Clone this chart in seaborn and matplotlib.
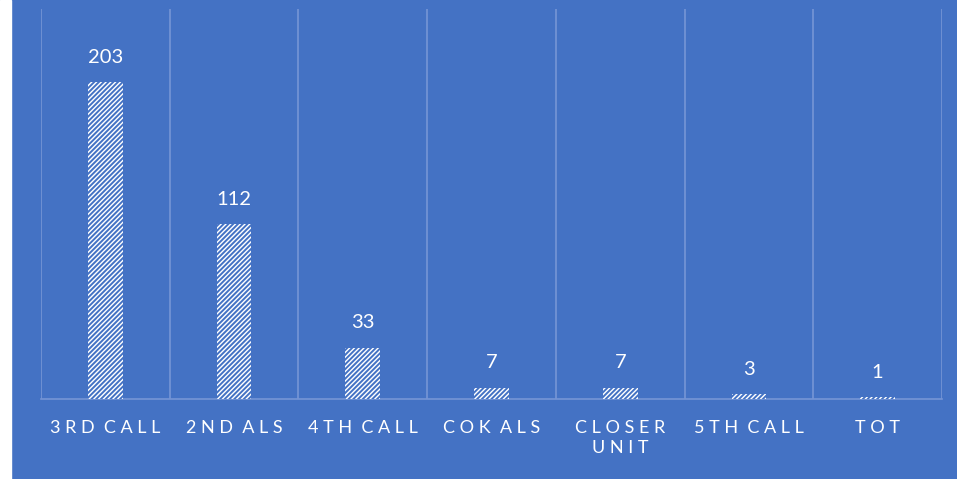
import matplotlib
matplotlib.use("Agg")
import matplotlib.pyplot as plt
import seaborn as sns
import numpy as np
from matplotlib.patches import Rectangle

# data
categories = ['3RD CALL', '2ND ALS', '4TH CALL', 'COK ALS', 'CLOSER\nUNIT', '5TH CALL', 'TOT']
counts = [203, 112, 33, 7, 7, 3, 1]

blue = '#4472C4'
grid_col = '#7695D5'

sns.set_style("white")
plt.rcParams['font.family'] = ['Lato', 'DejaVu Sans']
plt.rcParams['hatch.color'] = blue
plt.rcParams['hatch.linewidth'] = 1.4


def spaced(s):
    # mimic the letter spacing of the category labels
    return '\n'.join('  '.join(' '.join(w) for w in line.split(' ')) for line in s.split('\n'))


fig = plt.figure(figsize=(9.57, 4.79), dpi=100, facecolor=blue)
fig.patches.append(Rectangle((0, 0), 11 / 957, 1, transform=fig.transFigure,
                             color='white', zorder=0))
ax = fig.add_axes([41 / 957, 80 / 479, 901 / 957, 390 / 479])
ax.set_facecolor(blue)

sns.barplot(x=categories, y=counts, color='white', width=0.27, ax=ax,
            saturation=1, zorder=3)
for p in ax.patches:
    p.set_hatch('///////')
    p.set_edgecolor(blue)
    p.set_linewidth(0)

for i, v in enumerate(counts):
    ax.annotate(str(v), (i, v), xytext=(0, 12), textcoords='offset points',
                ha='center', va='bottom', color='white', fontsize=14.5)

ax.set_ylim(0, 250)
ax.set_xlim(-0.5, len(categories) - 0.5)
ax.set_yticks([])
for x in np.arange(-0.5, len(categories), 1):
    ax.axvline(x, color=grid_col, lw=1.2, zorder=1)

for s in ['top', 'left', 'right']:
    ax.spines[s].set_visible(False)
ax.spines['bottom'].set_color(grid_col)
ax.spines['bottom'].set_linewidth(1.2)

ax.set_xticks(range(len(categories)))
ax.set_xticklabels([spaced(c) for c in categories], color='white', fontsize=13,
                   linespacing=1.35)
ax.tick_params(axis='x', length=0, pad=15)
ax.set_xlabel('')
ax.set_ylabel('')

plt.savefig('out.png', dpi=100, facecolor=blue)
